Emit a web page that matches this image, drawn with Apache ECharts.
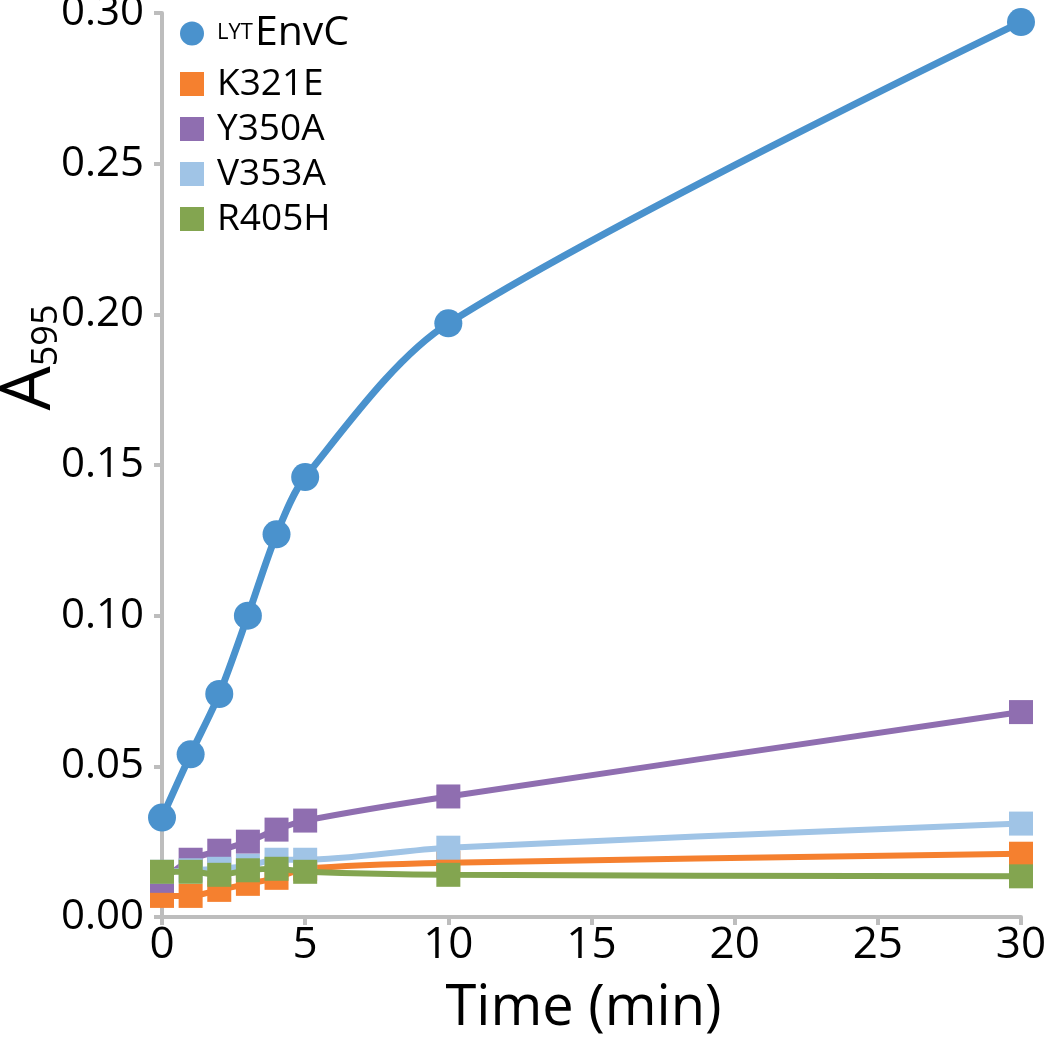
<!DOCTYPE html>
<html>
<head>
<meta charset="utf-8">
<script src="https://cdn.jsdelivr.net/npm/echarts@6/dist/echarts.min.js"></script>
<style>html,body{margin:0;padding:0;background:#fff}#c{width:1050px;height:1044px}</style>
</head>
<body>
<div id="c"></div>
<script>
var times = [0, 1, 2, 3, 4, 5, 10, 30];
var seriesNames = ['LYTEnvC', 'K321E', 'Y350A', 'V353A', 'R405H'];
var envc  = [0.033, 0.054, 0.074, 0.100, 0.127, 0.146, 0.197, 0.297];
var k321e = [0.007, 0.007, 0.009, 0.011, 0.013, 0.016, 0.018, 0.021];
var y350a = [0.012, 0.019, 0.022, 0.025, 0.029, 0.032, 0.040, 0.068];
var v353a = [0.015, 0.0155, 0.016, 0.017, 0.019, 0.019, 0.023, 0.031];
var r405h = [0.015, 0.015, 0.014, 0.0155, 0.016, 0.015, 0.014, 0.0135];
var xTicks = [0, 5, 10, 15, 20, 25, 30];
var yTicks = [0, 0.05, 0.10, 0.15, 0.20, 0.25, 0.30];

var colors = ['#4A92CD', '#F5802F', '#8F6EB0', '#A0C4E6', '#83A550'];
var allData = [envc, k321e, y350a, v353a, r405h];

function pairs(v) { return times.map(function (t, i) { return [t, v[i]]; }); }

var chart = echarts.init(document.getElementById('c'));
var series = allData.map(function (d, i) {
  return {
    name: seriesNames[i],
    type: 'line',
    data: pairs(d),
    smooth: 0.3,
    symbol: i === 0 ? 'circle' : 'rect',
    symbolSize: i === 0 ? 28 : 24,
    itemStyle: { color: colors[i], opacity: 1 },
    lineStyle: { color: colors[i], width: i === 0 ? 7 : 6 },
    z: 2 + i,
    animation: false
  };
});

chart.setOption({
  animation: false,
  backgroundColor: '#fff',
  grid: { left: 162, right: 29, top: 13, bottom: 127, containLabel: false, outerBoundsMode: 'none' },
  legend: {
    left: 175, top: 8, orient: 'vertical',
    itemWidth: 24, itemHeight: 24, itemGap: 8,
    data: seriesNames.map(function (n, i) { return { name: n, icon: i === 0 ? 'circle' : 'rect' }; }),
    formatter: function (n) { return n === 'LYTEnvC' ? '{sup|LYT}{b|EnvC}' : n; },
    textStyle: {
      fontFamily: 'Open Sans', fontSize: 37, lineHeight: 24, color: '#000', padding: [0, 0, 0, 8],
      rich: {
        sup: { fontFamily: 'Open Sans', fontSize: 22, lineHeight: 24, color: '#000', verticalAlign: 'top', padding: [0, 2, 14, 0] },
        b: { fontFamily: 'Open Sans', fontSize: 41, lineHeight: 24, color: '#000' }
      }
    }
  },
  xAxis: {
    type: 'value', min: 0, max: 30, interval: 5,
    name: 'Time (min)', nameLocation: 'middle', nameGap: 64, nameMoveOverlap: false,
    nameTextStyle: { fontFamily: 'Open Sans', fontSize: 56, color: '#000', padding: [0, 16, 0, 0] },
    axisLine: { show: true, lineStyle: { color: '#BDBDBD', width: 4 } },
    axisTick: { show: true, length: 8, lineStyle: { color: '#BDBDBD', width: 4 } },
    axisLabel: { fontFamily: 'Open Sans', fontSize: 44, color: '#000', margin: 6,
      formatter: function (v) { return xTicks.indexOf(v) >= 0 ? String(v) : ''; } },
    splitLine: { show: false }
  },
  yAxis: {
    type: 'value', min: 0, max: 0.30, interval: 0.05,
    name: '{a|A}{s|595}', nameLocation: 'middle', nameGap: 97, nameRotate: 90, nameMoveOverlap: false,
    nameTextStyle: {
      padding: [0, 0, 0, 215],
      rich: {
        a: { fontFamily: 'Open Sans', fontSize: 70, color: '#000' },
        s: { fontFamily: 'Open Sans', fontSize: 36, color: '#000', verticalAlign: 'bottom', padding: [26, 0, 0, 0] }
      }
    },
    axisLine: { show: true, lineStyle: { color: '#BDBDBD', width: 4 } },
    axisTick: { show: true, length: 8, lineStyle: { color: '#BDBDBD', width: 4 } },
    axisLabel: { fontFamily: 'Open Sans', fontSize: 42, color: '#000', margin: 18,
      formatter: function (v) { return yTicks.some(function (t) { return Math.abs(t - v) < 1e-9; }) ? v.toFixed(2) : ''; } },
    splitLine: { show: false }
  },
  series: series
});
</script>
</body>
</html>
